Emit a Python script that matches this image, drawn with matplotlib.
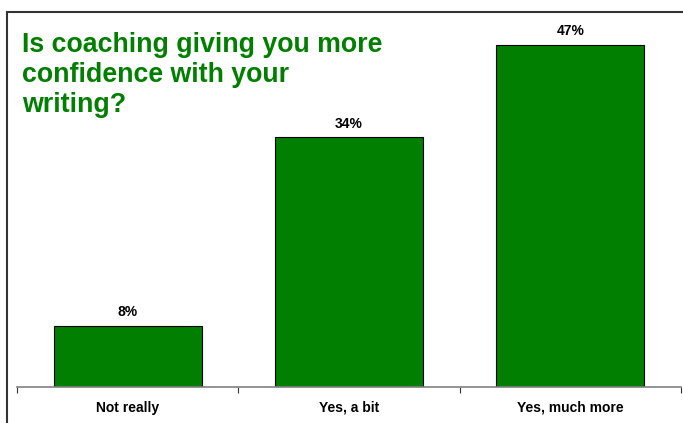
import matplotlib.pyplot as plt
from matplotlib.patches import Rectangle

categories = ['Not really', 'Yes, a bit', 'Yes, much more']
values = [8.4, 34.3, 47.0]
title = 'Is coaching giving you more\nconfidence with your\nwriting?'

green = '#007f00'

fig = plt.figure(figsize=(6.83, 4.23), dpi=100)
plt.rcParams['font.family'] = ['Liberation Sans', 'DejaVu Sans']

# outer frame (right/bottom cut off in the original)
fig.patches.append(Rectangle((7 / 683, -0.2), 1.0, 1.2 - 12 / 423,
                             transform=fig.transFigure, fill=False,
                             edgecolor='#333333', linewidth=1.5))

ax = fig.add_axes([17 / 683, 36 / 423, 664 / 683, 364 / 423])
x = list(range(len(categories)))
ax.bar(x, values, width=0.67, color=green, edgecolor='black', linewidth=0.8, zorder=2)

for xi, v in zip(x, values):
    ax.text(xi, v + 0.9, '%.0f%%' % v, ha='center', va='bottom',
            fontsize=10, fontweight='bold')

ax.set_xlim(-0.5, 2.5)
ax.set_ylim(0, 50)
ax.set_yticks([])
for s in ['left', 'right', 'top']:
    ax.spines[s].set_visible(False)
ax.spines['bottom'].set_color('#808080')
ax.spines['bottom'].set_linewidth(1.2)

ax.set_xticks([-0.5, 0.5, 1.5, 2.5])
ax.set_xticklabels([])
ax.tick_params(axis='x', which='major', direction='out', length=4, color='#333333')
ax.set_xticks(x, minor=True)
ax.set_xticklabels(categories, minor=True, fontsize=10, fontweight='bold')
ax.tick_params(axis='x', which='minor', length=0, pad=10)

fig.text(22 / 683, 1 - 32 / 423, title, ha='left', va='top', fontsize=19.3,
         fontweight='bold', color=green, linespacing=1.2)

fig.savefig('out.png', dpi=100)
